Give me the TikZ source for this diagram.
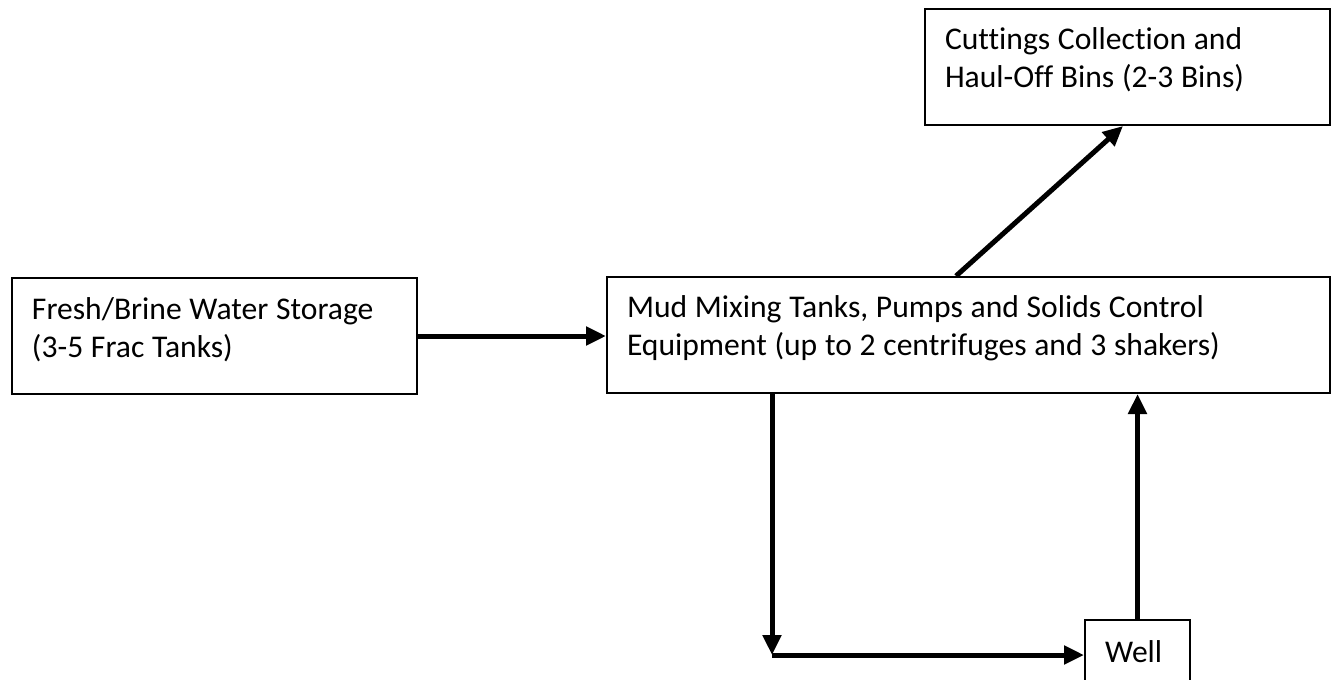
\documentclass[tikz,border=0pt]{standalone}
\usepackage{fontspec}
\setmainfont{Carlito}[Ligatures=NoCommon, WordSpace=1.08]
\usepackage{tikz}
\usetikzlibrary{
    arrows.meta,
    calc,
    positioning
}
\tikzset{
    unit/.style={draw, line width=1pt, anchor=north west, align=flush left,
        inner xsep=10pt, inner ysep=0pt, text height=20.5pt,
        font=\fontsize{15.8}{19}\selectfont},
    flow/.style={line width=2.5pt, -{Triangle[length=10pt, width=9pt]}}
}

\begin{document}
\begin{tikzpicture}[x=0.5pt, y=-0.5pt]
                                \useasboundingbox (0, 0) rectangle (1331, 679);
                                \node[unit, text width=182.5pt, text depth=37.5pt] (storage) at (11, 277) {Fresh/Brine Water Storage\\(3-5 Frac Tanks)};
                                \node[unit, text width=341.5pt, text depth=38pt, text height=20pt] (mixing) at (606, 276) {Mud Mixing Tanks, Pumps and Solids Control\\Equipment (up to 2 centrifuges and 3 shakers)};
                                \node[unit, text width=182.5pt, text depth=37.5pt] (bins) at (924, 8) {Cuttings Collection and\\Haul-Off Bins (2-3 Bins)};
                                \node[unit, text width=32.5pt, text height=21pt, text depth=15pt] (well) at (1084, 619) {Well};
                                \coordinate (corner) at (772, 655);
                                \draw[flow] (storage.east) -- (storage.east -| mixing.west);
                                \draw[flow] ([xshift=-6.25pt]mixing.north) -- ([xshift=-2.25pt]bins.south);
                                \draw[flow] (corner |- mixing.south) -- (corner);
                                \draw[flow] (corner) -- (corner -| well.west);
                                \draw[flow] (well.north) -- (well.north |- mixing.south);
                            \end{tikzpicture}
\end{document}
